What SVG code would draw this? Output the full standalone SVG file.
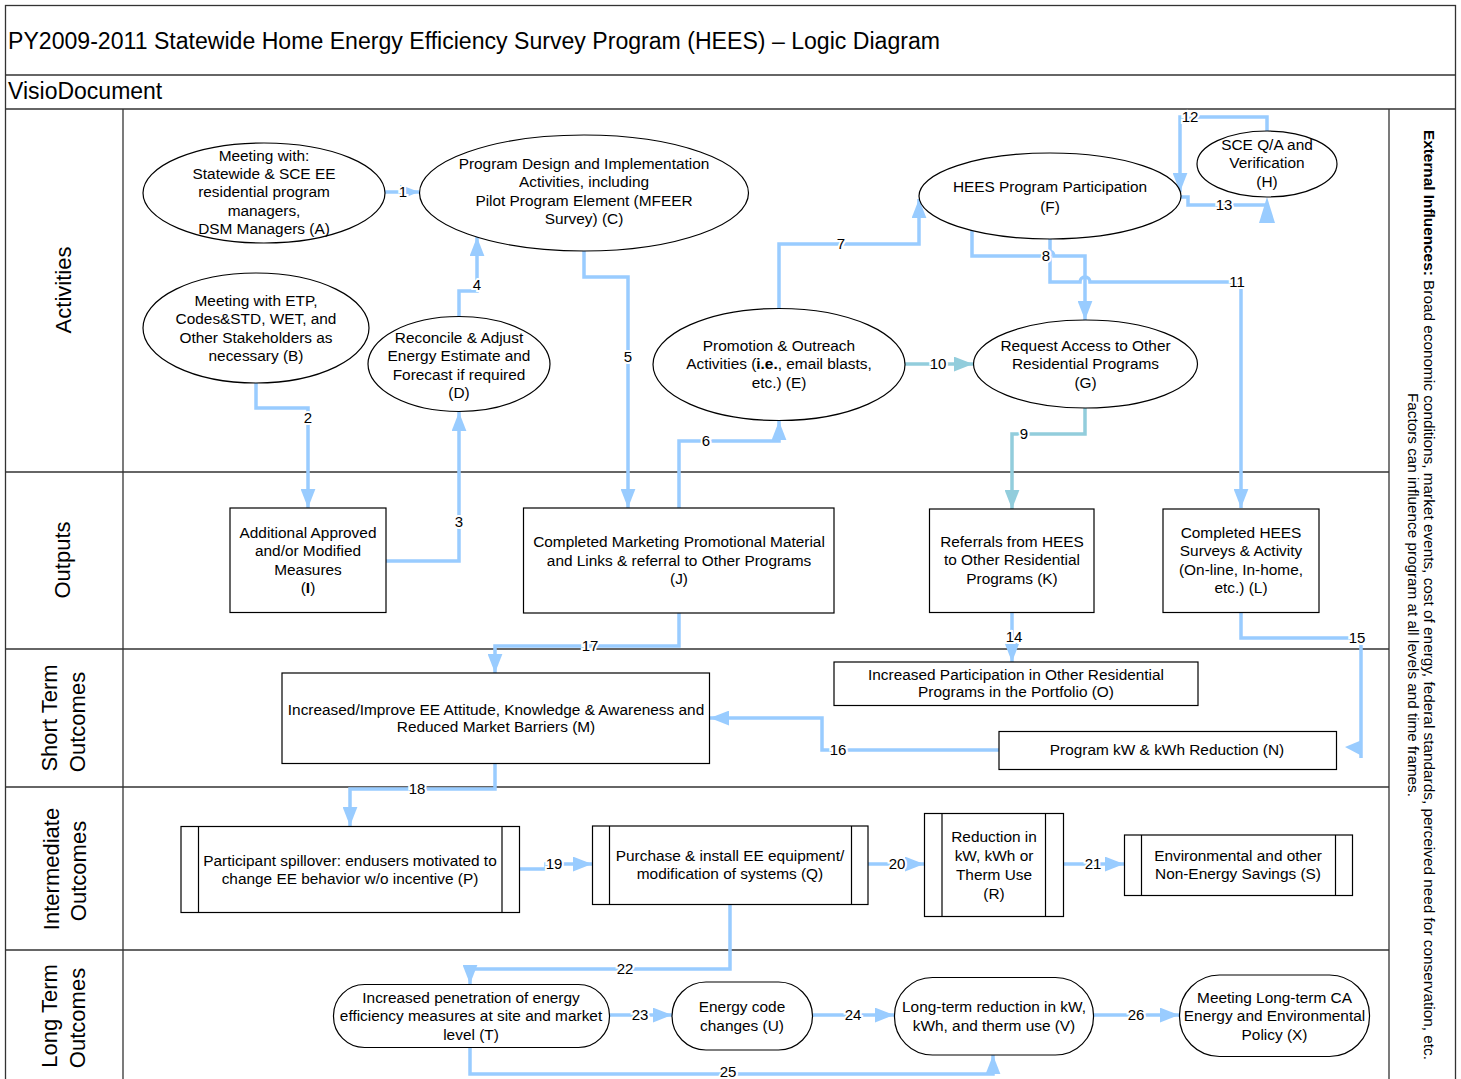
<svg xmlns="http://www.w3.org/2000/svg" width="1461" height="1079" viewBox="0 0 1461 1079">
<style>
.frame{fill:none;stroke:#333;stroke-width:1.3}
.n{fill:#fff;stroke:#000;stroke-width:1.2}
.t{font-family:"Liberation Sans",Arial,sans-serif;font-size:15.4px;text-anchor:middle;fill:#000}
.c{fill:none;stroke:#99CCFF;stroke-width:3.5;marker-end:url(#ab)}
.nm{marker-end:none}
.ct{stroke:#92CDDC;marker-end:url(#at)}
.lb{font-family:"Liberation Sans",Arial,sans-serif;font-size:15px;text-anchor:middle;fill:#000;stroke:#fff;stroke-width:4;paint-order:stroke}
.lane{font-family:"Liberation Sans",Arial,sans-serif;font-size:22px;text-anchor:middle;fill:#000}
.hdr{font-family:"Liberation Sans",Arial,sans-serif;font-size:23px;fill:#000}
.ext{font-family:"Liberation Sans",Arial,sans-serif;font-size:14.5px;text-anchor:middle;fill:#000}
</style>
<defs>
<marker id="ab" viewBox="0 0 18 14" refX="18" refY="7" markerWidth="19" markerHeight="15" markerUnits="userSpaceOnUse" orient="auto"><path d="M0,0 L18,7 L0,14 z" fill="#99CCFF"/></marker>
<marker id="at" viewBox="0 0 18 14" refX="18" refY="7" markerWidth="19" markerHeight="15" markerUnits="userSpaceOnUse" orient="auto"><path d="M0,0 L18,7 L0,14 z" fill="#92CDDC"/></marker>
</defs>
<rect width="1461" height="1079" fill="#fff"/>
<g id="frame">
<rect class="frame" x="5.5" y="5.5" width="1450" height="1080"/>
<line class="frame" x1="5" y1="75" x2="1456" y2="75"/>
<line class="frame" x1="5" y1="109" x2="1456" y2="109"/>
<line class="frame" x1="123" y1="109" x2="123" y2="1079"/>
<line class="frame" x1="1389" y1="109" x2="1389" y2="1079"/>
<line class="frame" x1="5" y1="472" x2="1389" y2="472"/>
<line class="frame" x1="5" y1="649" x2="1389" y2="649"/>
<line class="frame" x1="5" y1="787" x2="1389" y2="787"/>
<line class="frame" x1="5" y1="950" x2="1389" y2="950"/>
<text class="hdr" x="8" y="49" textLength="932" lengthAdjust="spacingAndGlyphs">PY2009-2011 Statewide Home Energy Efficiency Survey Program (HEES) – Logic Diagram</text>
<text class="hdr" x="8" y="99">VisioDocument</text>
</g>
<g id="lanes">
<text class="lane" transform="translate(71,290) rotate(-90)">Activities</text>
<text class="lane" transform="translate(70,560) rotate(-90)">Outputs</text>
<text class="lane" transform="translate(57,718) rotate(-90)">Short Term</text>
<text class="lane" transform="translate(85,722) rotate(-90)">Outcomes</text>
<text class="lane" transform="translate(59,869) rotate(-90)">Intermediate</text>
<text class="lane" transform="translate(86,871) rotate(-90)">Outcomes</text>
<text class="lane" transform="translate(57,1016) rotate(-90)">Long Term</text>
<text class="lane" transform="translate(85,1018) rotate(-90)">Outcomes</text>
</g>
<g id="external">
<text class="ext" transform="translate(1424,595) rotate(90)" textLength="930" lengthAdjust="spacingAndGlyphs"><tspan font-weight="bold">External Influences:</tspan> Broad economic conditions, market events, cost of energy, federal standards, perceived need for conservation, etc.</text>
<text class="ext" transform="translate(1408,595) rotate(90)" textLength="404" lengthAdjust="spacingAndGlyphs">Factors can influence program at all levels and time frames.</text>
</g>
<g id="connectors">
<path class="c" d="M385,192 H419"/>
<path class="c" d="M256,383 V408 H308 V508"/>
<path class="c" d="M386,561 H459 V412"/>
<path class="c" d="M459,317 V291 H477 V237"/>
<path class="c" d="M584,251 V277 H628 V508"/>
<path class="c" d="M679,508 V441 H779 V421"/>
<path class="c" d="M779,308 V244 H919 V199"/>
<path class="c" d="M972,231 V256 H1044 a5,5 0 0 1 10,0 H1085 V320"/>
<path class="c ct" d="M1085,408 V434 H1012 V509"/>
<path class="c ct" d="M905,364 H973"/>
<path class="c" d="M1050,239 V282 H1080 a5,5 0 0 1 10,0 H1241 V508"/>
<path class="c" d="M1267,131 V117 H1180 V192"/>
<path class="c nm" d="M1181,197 H1188 V205 H1267"/>
<polygon points="1259,223 1275,223 1267,197" fill="#99CCFF"/>
<path class="c" d="M1012,613 V662"/>
<path class="c nm" d="M1241,613 V638 H1361 V758"/>
<polygon points="1345,747 1362,740 1362,756" fill="#99CCFF"/>
<path class="c" d="M999,750 H822 V718 H710"/>
<path class="c" d="M679,613 V646 H495 V673"/>
<path class="c" d="M495,764 V789 H350 V826"/>
<path class="c" d="M520,869 H546 V864 H592"/>
<path class="c" d="M868,864 H924"/>
<path class="c" d="M1063,864 H1124"/>
<path class="c" d="M730,904 V969 H470 V984"/>
<path class="c" d="M609,1015 H672"/>
<path class="c" d="M813,1015 H894"/>
<path class="c" d="M470,1048 V1074 H993 V1055"/>
<path class="c" d="M1093,1015 H1179"/>
<text class="lb" x="403" y="197">1</text>
<text class="lb" x="308" y="423">2</text>
<text class="lb" x="459" y="527">3</text>
<text class="lb" x="477" y="290">4</text>
<text class="lb" x="628" y="362">5</text>
<text class="lb" x="706" y="446">6</text>
<text class="lb" x="841" y="249">7</text>
<text class="lb" x="1046" y="261">8</text>
<text class="lb" x="1024" y="439">9</text>
<text class="lb" x="938" y="369">10</text>
<text class="lb" x="1237" y="287">11</text>
<text class="lb" x="1190" y="122">12</text>
<text class="lb" x="1224" y="210">13</text>
<text class="lb" x="1014" y="642">14</text>
<text class="lb" x="1357" y="643">15</text>
<text class="lb" x="838" y="755">16</text>
<text class="lb" x="590" y="651">17</text>
<text class="lb" x="417" y="794">18</text>
<text class="lb" x="554" y="869">19</text>
<text class="lb" x="897" y="869">20</text>
<text class="lb" x="1093" y="869">21</text>
<text class="lb" x="625" y="974">22</text>
<text class="lb" x="640" y="1020">23</text>
<text class="lb" x="853" y="1020">24</text>
<text class="lb" x="728" y="1077">25</text>
<text class="lb" x="1136" y="1020">26</text>
</g>
<g id="nodeA">
<ellipse class="n" cx="264" cy="193" rx="121" ry="50"/>
<text class="t"><tspan x="264" y="160.5">Meeting with:</tspan><tspan x="264" y="178.8">Statewide &amp; SCE EE</tspan><tspan x="264" y="197.2">residential program</tspan><tspan x="264" y="215.5">managers,</tspan><tspan x="264" y="233.8">DSM Managers (A)</tspan></text>
</g>
<g id="nodeB">
<ellipse class="n" cx="256" cy="328" rx="113" ry="55"/>
<text class="t"><tspan x="256" y="305.5">Meeting with ETP,</tspan><tspan x="256" y="324">Codes&amp;STD, WET, and</tspan><tspan x="256" y="342.5">Other Stakeholders as</tspan><tspan x="256" y="361">necessary (B)</tspan></text>
</g>
<g id="nodeC">
<ellipse class="n" cx="584" cy="193" rx="164.5" ry="58"/>
<text class="t"><tspan x="584" y="168.5">Program Design and Implementation</tspan><tspan x="584" y="187">Activities, including</tspan><tspan x="584" y="205.6">Pilot Program Element (MFEER</tspan><tspan x="584" y="224.2">Survey) (C)</tspan></text>
</g>
<g id="nodeD">
<ellipse class="n" cx="459" cy="364" rx="91" ry="47.5"/>
<text class="t"><tspan x="459" y="342.5">Reconcile &amp; Adjust</tspan><tspan x="459" y="361">Energy Estimate and</tspan><tspan x="459" y="379.5">Forecast if required</tspan><tspan x="459" y="398">(D)</tspan></text>
</g>
<g id="nodeE">
<ellipse class="n" cx="779" cy="364.5" rx="126" ry="56"/>
<text class="t"><tspan x="779" y="350.5">Promotion &amp; Outreach</tspan><tspan x="779" y="369">Activities (<tspan font-weight="bold">i.e.</tspan>, email blasts,</tspan><tspan x="779" y="387.5">etc.) (E)</tspan></text>
</g>
<g id="nodeF">
<ellipse class="n" cx="1050" cy="196" rx="131" ry="43"/>
<text class="t"><tspan x="1050" y="192">HEES Program Participation</tspan><tspan x="1050" y="212">(F)</tspan></text>
</g>
<g id="nodeG">
<ellipse class="n" cx="1085.5" cy="364" rx="112" ry="44"/>
<text class="t"><tspan x="1085.5" y="350.5">Request Access to Other</tspan><tspan x="1085.5" y="369">Residential Programs</tspan><tspan x="1085.5" y="387.5">(G)</tspan></text>
</g>
<g id="nodeH">
<ellipse class="n" cx="1267" cy="164" rx="70" ry="33"/>
<text class="t"><tspan x="1267" y="149.5">SCE Q/A and</tspan><tspan x="1267" y="168">Verification</tspan><tspan x="1267" y="187">(H)</tspan></text>
</g>
<g id="nodeI">
<rect class="n" x="230" y="508" width="156" height="104.5"/>
<text class="t"><tspan x="308" y="537.5">Additional Approved</tspan><tspan x="308" y="556">and/or Modified</tspan><tspan x="308" y="574.5">Measures</tspan><tspan x="308" y="593">(<tspan font-weight="bold">I</tspan>)</tspan></text>
</g>
<g id="nodeJ">
<rect class="n" x="523.5" y="508" width="310.5" height="105"/>
<text class="t"><tspan x="679" y="547">Completed Marketing Promotional Material</tspan><tspan x="679" y="565.5">and Links &amp; referral to Other Programs</tspan><tspan x="679" y="584">(J)</tspan></text>
</g>
<g id="nodeK">
<rect class="n" x="929.5" y="509" width="164.5" height="103.5"/>
<text class="t"><tspan x="1012" y="546.5">Referrals from HEES</tspan><tspan x="1012" y="565">to Other Residential</tspan><tspan x="1012" y="583.5">Programs (K)</tspan></text>
</g>
<g id="nodeL">
<rect class="n" x="1163" y="509" width="156" height="103.5"/>
<text class="t"><tspan x="1241" y="537.5">Completed HEES</tspan><tspan x="1241" y="556">Surveys &amp; Activity</tspan><tspan x="1241" y="574.5">(On-line, In-home,</tspan><tspan x="1241" y="593">etc.) (L)</tspan></text>
</g>
<g id="nodeM">
<rect class="n" x="282" y="673" width="427.5" height="90.5"/>
<text class="t"><tspan x="496" y="714.5">Increased/Improve EE Attitude, Knowledge &amp; Awareness and</tspan><tspan x="496" y="732">Reduced Market Barriers (M)</tspan></text>
</g>
<g id="nodeO">
<rect class="n" x="834" y="662" width="364" height="43.5"/>
<text class="t"><tspan x="1016" y="679.5">Increased Participation in Other Residential</tspan><tspan x="1016" y="697">Programs in the Portfolio (O)</tspan></text>
</g>
<g id="nodeN">
<rect class="n" x="999" y="731.5" width="337.5" height="38"/>
<text class="t" x="1167" y="755">Program kW &amp; kWh Reduction (N)</text>
</g>
<g id="nodeP">
<rect class="n" x="181" y="826.5" width="338.5" height="86"/>
<line class="n" x1="198.5" y1="826.5" x2="198.5" y2="912.5"/>
<line class="n" x1="502" y1="826.5" x2="502" y2="912.5"/>
<text class="t"><tspan x="350" y="865.5">Participant spillover: endusers motivated to</tspan><tspan x="350" y="884">change EE behavior w/o incentive (P)</tspan></text>
</g>
<g id="nodeQ">
<rect class="n" x="592.5" y="826" width="275.5" height="78.5"/>
<line class="n" x1="609.5" y1="826" x2="609.5" y2="904.5"/>
<line class="n" x1="851.5" y1="826" x2="851.5" y2="904.5"/>
<text class="t"><tspan x="730" y="860.5">Purchase &amp; install EE equipment/</tspan><tspan x="730" y="879">modification of systems (Q)</tspan></text>
</g>
<g id="nodeR">
<rect class="n" x="924.5" y="813.5" width="139" height="103"/>
<line class="n" x1="942" y1="813.5" x2="942" y2="916.5"/>
<line class="n" x1="1045.5" y1="813.5" x2="1045.5" y2="916.5"/>
<text class="t"><tspan x="994" y="842">Reduction in</tspan><tspan x="994" y="861">kW, kWh or</tspan><tspan x="994" y="879.5">Therm Use</tspan><tspan x="994" y="898.5">(R)</tspan></text>
</g>
<g id="nodeS">
<rect class="n" x="1124.5" y="835" width="228" height="60.5"/>
<line class="n" x1="1141.5" y1="835" x2="1141.5" y2="895.5"/>
<line class="n" x1="1335.5" y1="835" x2="1335.5" y2="895.5"/>
<text class="t"><tspan x="1238" y="860.5">Environmental and other</tspan><tspan x="1238" y="879">Non-Energy Savings (S)</tspan></text>
</g>
<g id="nodeT">
<rect class="n" x="333.5" y="984.5" width="276" height="63" rx="31" ry="31"/>
<text class="t"><tspan x="471" y="1003">Increased penetration of energy</tspan><tspan x="471" y="1021">efficiency measures at site and market</tspan><tspan x="471" y="1040">level (T)</tspan></text>
</g>
<g id="nodeU">
<rect class="n" x="672" y="982" width="140.5" height="68" rx="34" ry="34"/>
<text class="t"><tspan x="742" y="1012">Energy code</tspan><tspan x="742" y="1030.5">changes (U)</tspan></text>
</g>
<g id="nodeV">
<rect class="n" x="894.5" y="977.5" width="199" height="77.5" rx="38" ry="38"/>
<text class="t"><tspan x="994" y="1012">Long-term reduction in kW,</tspan><tspan x="994" y="1030.5">kWh, and therm use (V)</tspan></text>
</g>
<g id="nodeX">
<rect class="n" x="1179.5" y="975" width="190" height="81.5" rx="40" ry="40"/>
<text class="t"><tspan x="1274.5" y="1003">Meeting Long-term CA</tspan><tspan x="1274.5" y="1021">Energy and Environmental</tspan><tspan x="1274.5" y="1040">Policy (X)</tspan></text>
</g>
</svg>
